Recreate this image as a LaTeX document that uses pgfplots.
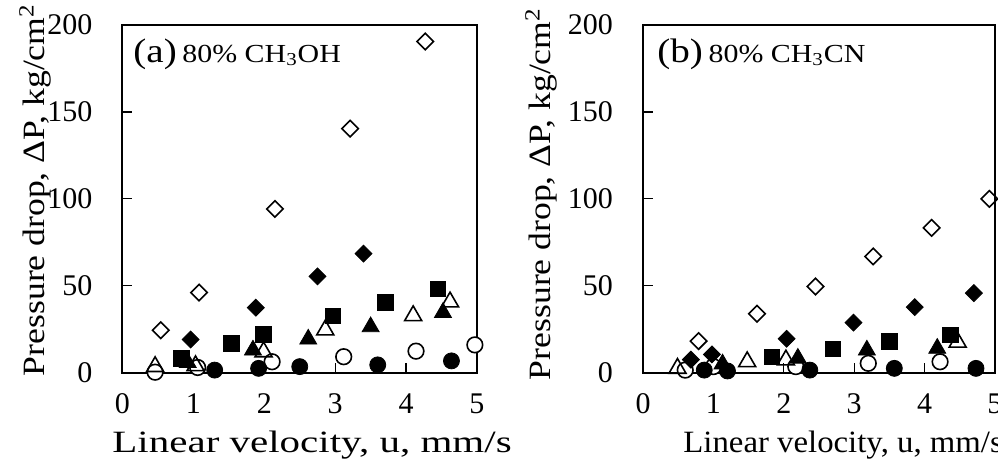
\documentclass[border=0pt]{standalone}
\usepackage{fontspec}
\setmainfont{Liberation Serif}[FakeStretch=1.15]
\newfontfamily\tickfont{Liberation Serif}
\usepackage{graphicx}
\usepackage{pgfplots}
\pgfplotsset{compat=1.18}

\pgfplotsset{
  panel/.style={
    scale only axis,
    anchor=south west,
    height=173.85pt,
    xmin=0, xmax=5, ymin=0, ymax=200,
    xtick={0,1,2,3,4,5},
    ytick={0,50,100,150,200},
    tick align=inside,
    xtick pos=bottom, ytick pos=left,
    major tick length=5pt,
    axis line style={line width=1pt},
    tick style={line width=0.6pt, black},
    clip=false,
    /pgf/number format/assume math mode=true,
    tick label style={font=\tickfont\fontsize{15}{18}\selectfont},
    yticklabel style={xshift=-11.5pt},
    xticklabel style={yshift=-7pt},
  },
  odia/.style={only marks, black, mark=square, mark size=2.9pt,
    mark options={rotate=45, fill=white, line width=0.8pt}},
  fdia/.style={only marks, black, mark=square*, mark size=3pt,
    mark options={rotate=45, fill=black}},
  fsq/.style={only marks, black, mark=square*, mark size=3.9pt,
    mark options={fill=black}},
  otri/.style={only marks, black, mark=triangle, mark size=4.9pt,
    mark options={fill=white, line width=0.8pt}},
  ftri/.style={only marks, black, mark=triangle*, mark size=4.9pt,
    mark options={fill=black}},
  ocirc/.style={only marks, black, mark=*, mark size=3.9pt,
    mark options={fill=white, line width=0.8pt}},
  fcirc/.style={only marks, black, mark=*, mark size=4pt,
    mark options={fill=black}},
}

\begin{document}
\begin{tikzpicture}
\path[use as bounding box] (0,0) rectangle (499pt,234pt);

% (a) 80% CH3OH
\begin{axis}[panel, at={(61.25pt,47.65pt)}, width=177.25pt]
\addplot[ocirc] coordinates {(0.46,0.3) (1.06,3) (2.11,6.3) (3.12,9.2) (4.14,12.4) (4.97,16)};
\addplot[fcirc] coordinates {(1.30,1.5) (1.92,2.5) (2.50,3.5) (3.60,4.5) (4.64,6.8)};
\addplot[otri] coordinates {(0.46,3.5) (1.03,4) (1.99,12) (2.86,24.6) (4.10,32.8) (4.62,40.7)};
\addplot[ftri] coordinates {(0.92,5.8) (1.84,13) (2.62,19.3) (3.50,26.4) (4.52,34.6)};
\addplot[fsq] coordinates {(0.83,8.3) (1.54,16.8) (1.99,22.2) (2.97,32.7) (3.71,40.6) (4.45,48.1)};
\addplot[fdia] coordinates {(0.96,19.1) (1.88,37.4) (2.75,55.4) (3.40,68.5)};
\addplot[odia] coordinates {(0.54,24.4) (1.08,46.1) (2.15,94.2) (3.21,140.4) (4.27,190.5)};
\end{axis}

% (b) 80% CH3CN
\begin{axis}[panel, at={(321.5pt,47.65pt)}, width=176pt]
\addplot[ocirc] coordinates {(0.60,1.5) (1.00,3.5) (2.17,3.5) (3.20,5.4) (4.22,6.3)};
\addplot[fcirc] coordinates {(0.87,1.5) (1.20,1) (2.37,1.5) (3.57,2.5) (4.73,2.5)};
\addplot[otri] coordinates {(0.49,2.5) (1.48,6.3) (2.03,7.3) (4.47,17.5)};
\addplot[ftri] coordinates {(1.13,5) (2.20,8.3) (3.18,13) (4.18,14)};
\addplot[fsq] coordinates {(1.83,9.2) (2.70,13.6) (3.50,17.9) (4.37,21.7)};
\addplot[fdia] coordinates {(0.68,7.5) (0.98,10.5) (2.04,19.5) (2.99,28.8) (3.86,37.7) (4.70,45.8)};
\addplot[odia] coordinates {(0.79,18.2) (1.62,33.9) (2.45,49.6) (3.27,66.9) (4.10,83.3) (4.92,100)};
\end{axis}

% panel titles
\node[anchor=base west, inner sep=0pt] at (66.5pt,203pt)
  {\fontsize{17}{19}\selectfont(a)\,\fontsize{13}{15}\selectfont 80\% CH\textsubscript{3}OH};
\node[anchor=base west, inner sep=0pt] at (328.5pt,203pt)
  {\fontsize{17}{19}\selectfont(b)\,\fontsize{13}{15}\selectfont 80\% CH\textsubscript{3}CN};

% axis labels
\node[anchor=base west, inner sep=0pt] at (56pt,8pt)
  {\scalebox{1.15}[1]{\fontsize{15.5}{18}\selectfont Linear velocity, u, mm/s}};
\node[anchor=base west, inner sep=0pt] at (341.5pt,8pt)
  {\scalebox{0.92}[1]{\fontsize{15.5}{18}\selectfont Linear velocity, u, mm/s}};
\node[anchor=base, rotate=90, inner sep=0pt] at (22pt,139pt)
  {\fontsize{15.5}{18}\selectfont Pressure drop, ΔP, kg/cm\textsuperscript{2}};
\node[anchor=base, rotate=90, inner sep=0pt] at (275pt,137pt)
  {\fontsize{15.5}{18}\selectfont Pressure drop, ΔP, kg/cm\textsuperscript{2}};
\end{tikzpicture}
\end{document}
